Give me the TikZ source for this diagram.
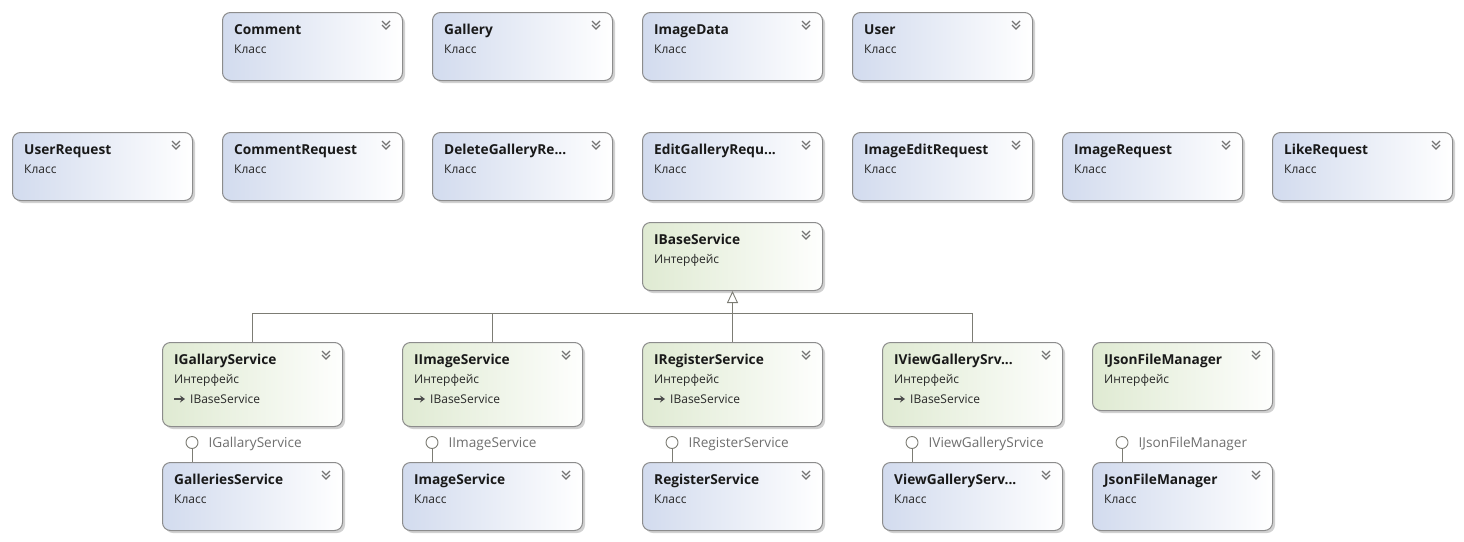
\documentclass[tikz,border=0pt]{standalone}
\usepackage{fontspec}
\setmainfont{Open Sans}
\usetikzlibrary{arrows.meta,shadows}
\definecolor{boxline}{HTML}{8C8C8C}
\definecolor{clsleft}{HTML}{D2DBEE}
\definecolor{ifcleft}{HTML}{DFEAD2}
\definecolor{linkgray}{HTML}{7C7C74}
\definecolor{lblgray}{HTML}{6E6E6E}
\tikzset{
  umlbase/.style={draw=boxline,line width=1pt,rounded corners=8pt,anchor=north west,
    minimum width=180pt,minimum height=68pt,inner sep=0pt,
    drop shadow={shadow xshift=2.5pt,shadow yshift=-2.5pt,opacity=.3,fill=black!60}},
  classbox/.style={umlbase,left color=clsleft,right color=white},
  ifacebox/.style={umlbase,left color=ifcleft,right color=white!96!ifcleft},
  titletext/.style={font=\fontsize{13.7}{16}\selectfont\bfseries,text=black!90,anchor=base west,inner sep=0pt},
  kindtext/.style={font=\fontsize{12}{14}\selectfont,text=black!85,anchor=base west,inner sep=0pt},
  chev/.style={draw=black!55,line width=1.2pt},
  link/.style={draw=linkgray,line width=.9pt},
  lolli/.style={circle,draw=linkgray,fill=white,line width=.9pt,minimum size=12pt,inner sep=0pt},
  lbltext/.style={font=\fontsize{13.6}{16}\selectfont,text=lblgray,anchor=base west,inner sep=0pt},
}
% name, style, top left corner, title, kind
\newcommand{\umlbox}[5]{%
  \node[#2] (#1) at (#3) {};
  \node[titletext] (#1-title) at ([xshift=12pt,yshift=-22.5pt]#1.north west) {#4};
  \node[kindtext] (#1-kind) at ([xshift=12pt,yshift=-41pt]#1.north west) {#5};
  \draw[chev] ([xshift=-21pt,yshift=-9pt]#1.north east) -- ++(4pt,-4pt) -- ++(4pt,4pt)
    ([xshift=-21pt,yshift=-13pt]#1.north east) -- ++(4pt,-4pt) -- ++(4pt,4pt);
}
% base interface line of a derived interface
\newcommand{\baseline}[1]{%
  \draw[draw=black!70,line width=1.5pt,-{Stealth[length=5pt,width=7pt]}]
    ([xshift=12pt,yshift=-57pt]#1.north west) -- ++(11pt,0pt);
  \node[kindtext] (#1-base) at ([xshift=28pt,yshift=-61pt]#1.north west) {IBaseService};
}
\begin{document}
\begin{tikzpicture}[x=1pt,y=-1pt]
\useasboundingbox (0,0) rectangle (1464,541);
% entities
\umlbox{comment}{classbox}{222,12}{Comment}{Класс}
\umlbox{gallery}{classbox}{432,12}{Gallery}{Класс}
\umlbox{imgdata}{classbox}{642,12}{ImageData}{Класс}
\umlbox{user}{classbox}{852,12}{User}{Класс}
% requests
\umlbox{userreq}{classbox}{12,132}{UserRequest}{Класс}
\umlbox{commreq}{classbox}{222,132}{CommentRequest}{Класс}
\umlbox{delreq}{classbox}{432,132}{DeleteGalleryRe...}{Класс}
\umlbox{editreq}{classbox}{642,132}{EditGalleryRequ...}{Класс}
\umlbox{imgeditreq}{classbox}{852,132}{ImageEditRequest}{Класс}
\umlbox{imgreq}{classbox}{1062,132}{ImageRequest}{Класс}
\umlbox{likereq}{classbox}{1272,132}{LikeRequest}{Класс}
% interfaces
\umlbox{ibase}{ifacebox}{642,222}{IBaseService}{Интерфейс}
\umlbox{igal}{ifacebox,minimum height=84pt}{162,342}{IGallaryService}{Интерфейс}
\umlbox{iimg}{ifacebox,minimum height=84pt}{402,342}{IImageService}{Интерфейс}
\umlbox{ireg}{ifacebox,minimum height=84pt}{642,342}{IRegisterService}{Интерфейс}
\umlbox{iview}{ifacebox,minimum height=84pt}{882,342}{IViewGallerySrv...}{Интерфейс}
\umlbox{ijson}{ifacebox}{1092,342}{IJsonFileManager}{Интерфейс}
\baseline{igal}
\baseline{iimg}
\baseline{ireg}
\baseline{iview}
% services
\umlbox{galsvc}{classbox}{162,462}{GalleriesService}{Класс}
\umlbox{imgsvc}{classbox}{402,462}{ImageService}{Класс}
\umlbox{regsvc}{classbox}{642,462}{RegisterService}{Класс}
\umlbox{viewsvc}{classbox}{882,462}{ViewGalleryServ...}{Класс}
\umlbox{jsonmgr}{classbox}{1092,462}{JsonFileManager}{Класс}
% inheritance
\coordinate (bar) at (0,313);
\draw[link] (igal.north) |- (bar -| iview.north) -- (iview.north);
\draw[link] (iimg.north) -- (iimg.north |- bar);
\draw[link,-{Triangle[length=12pt,width=11pt,fill=white]}] (ireg.north) -- (ibase.south);
% implemented interfaces
\foreach \c/\t in {galsvc/IGallaryService,imgsvc/IImageService,regsvc/IRegisterService,
    viewsvc/IViewGallerySrvice,jsonmgr/IJsonFileManager}{
  \node[lolli] (\c-pin) at ([xshift=30pt,yshift=19.5pt]\c.north west) {};
  \draw[link] (\c-pin.south) -- (\c-pin.south |- \c.north);
  \node[lbltext] (\c-lbl) at ([xshift=10pt,yshift=-5pt]\c-pin.east) {\t};
}
\end{tikzpicture}
\end{document}
